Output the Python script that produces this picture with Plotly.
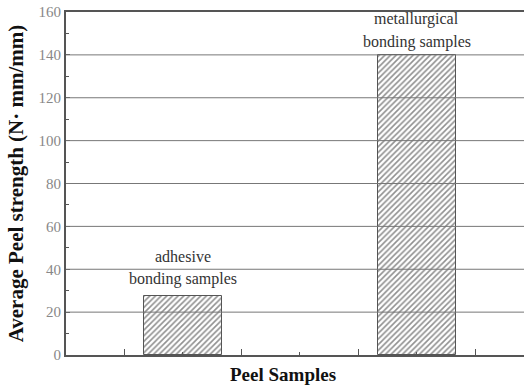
import plotly.graph_objects as go

# Data
categories = ["adhesive bonding samples", "metallurgical bonding samples"]
positions = [1, 3]
peel_strength = [27.5, 140]
label_line1 = ["adhesive", "metallurgical"]
label_line2 = ["bonding samples", "bonding samples"]
y_ticks = [0, 20, 40, 60, 80, 100, 120, 140, 160]
grid_values = [20, 40, 60, 80, 100, 120, 140]

SERIF = "Liberation Serif, Times New Roman, serif"
LABEL_SHIFT = [6, 2]  # vertical pixel offset of the labels above each bar

fig = go.Figure()
fig.add_trace(go.Bar(
    x=positions,
    y=peel_strength,
    width=0.67,
    marker=dict(
        color="white",
        line=dict(color="#555555", width=1),
        pattern=dict(shape="/", size=4, solidity=0.4, fgcolor="#222222", bgcolor="white"),
    ),
    hoverinfo="skip",
    showlegend=False,
))

# Gridlines drawn above the bars (as in the reference)
for g in grid_values:
    fig.add_shape(type="line", xref="paper", x0=0, x1=1, yref="y", y0=g, y1=g,
                  line=dict(color="#777777", width=1), layer="above")

# Bar labels
for xp, v, l1, l2, s in zip(positions, peel_strength, label_line1, label_line2, LABEL_SHIFT):
    fig.add_annotation(x=xp, y=v, text=l2, showarrow=False, yanchor="bottom", yshift=s,
                       font=dict(family=SERIF, size=16, color="#333333"))
    fig.add_annotation(x=xp, y=v, text=l1, showarrow=False, yanchor="bottom", yshift=s + 23,
                       font=dict(family=SERIF, size=16, color="#333333"))

# X axis title
fig.add_annotation(xref="paper", yref="paper", x=(283 - 66) / (524 - 66), y=0,
                   yshift=-19, text="<b>Peel Samples</b>", showarrow=False, yanchor="middle",
                   font=dict(family=SERIF, size=19, color="#111111"))

fig.update_layout(
    width=524, height=387,
    margin=dict(l=66, r=0, t=12, b=32),
    paper_bgcolor="white", plot_bgcolor="white",
    bargap=0,
    xaxis=dict(
        range=[0, 3.915],
        showgrid=False, zeroline=False,
        showline=True, linecolor="#555555", linewidth=2, mirror=True,
        tickmode="array", tickvals=[0.5, 1.5, 2.5, 3.5], ticktext=["", "", "", ""],
        ticks="inside", ticklen=6, tickcolor="#555555", tickwidth=1,
        minor=dict(tickmode="array", tickvals=[1, 2, 3], ticks="inside", ticklen=3,
                   tickcolor="#555555"),
        fixedrange=True,
    ),
    yaxis=dict(
        range=[0, 160],
        showgrid=False, zeroline=False,
        showline=True, linecolor="#555555", linewidth=2,
        tickmode="array", tickvals=y_ticks,
        ticks="inside", ticklen=4, tickcolor="#555555",
        minor=dict(dtick=10, ticks="inside", ticklen=3, tickcolor="#555555"),
        tickfont=dict(family=SERIF, size=15, color="#888888"),
        title=dict(text="<b>Average Peel strength (N· mm/mm)</b>",
                   font=dict(family=SERIF, size=21, color="#111111"), standoff=9),
        fixedrange=True,
    ),
)

fig.write_html("out.html")
